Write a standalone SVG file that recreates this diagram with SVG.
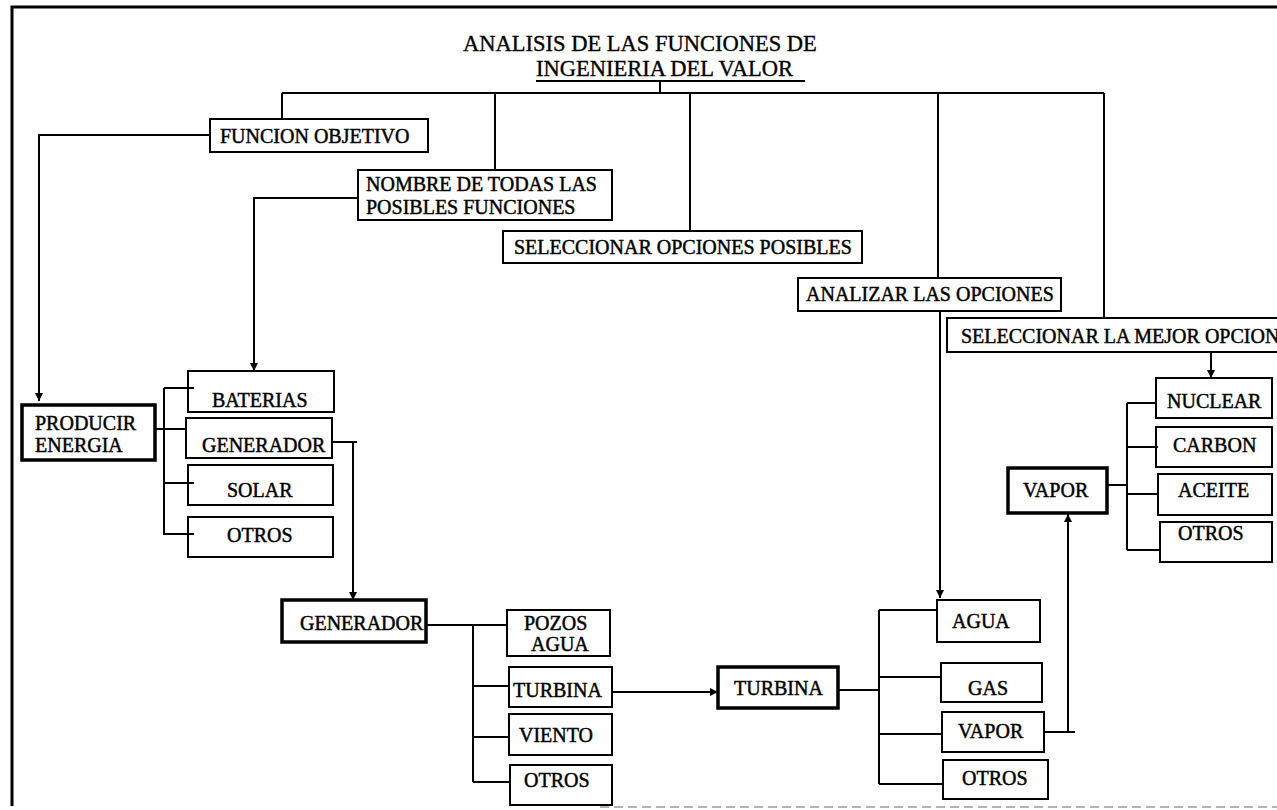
<svg xmlns="http://www.w3.org/2000/svg" width="1277" height="810" viewBox="0 0 1277 810">
  <style>
    .box { fill: #fff; stroke: #000; stroke-width: 2; }
    .thick { fill: #fff; stroke: #000; stroke-width: 3.5; }
    .lbl { font-family: "Liberation Serif", "Times New Roman", serif; font-size: 20px; fill: #000; stroke: #000; stroke-width: 0.45px; }
    .title { font-family: "Liberation Serif", "Times New Roman", serif; font-size: 22.5px; fill: #000; stroke: #000; stroke-width: 0.35px; }
    .wire { fill: none; stroke: #000; stroke-width: 2; }
    .arrow { fill: none; stroke: #000; stroke-width: 2; marker-end: url(#head); }
  </style>
  <defs>
    <marker id="head" viewBox="0 0 10 10" refX="10" refY="5" markerWidth="9" markerHeight="8" markerUnits="userSpaceOnUse" orient="auto">
      <path d="M0,0 L10,5 L0,10 z" fill="#000"/>
    </marker>
  </defs>

  <rect width="1277" height="810" fill="#fff"/>

  <!-- page frame -->
  <g id="frame">
    <path d="M12,806 V7 H1277" fill="none" stroke="#000" stroke-width="3"/>
    <path d="M600,807 H1277" fill="none" stroke="#9a9a9a" stroke-width="1.5" stroke-dasharray="9 5"/>
  </g>

  <!-- heading -->
  <g id="title">
    <text class="title" x="463" y="51">ANALISIS DE LAS FUNCIONES DE</text>
    <text class="title" x="536" y="76">INGENIERIA DEL VALOR</text>
    <path d="M536,81 H805" stroke="#000" stroke-width="1.8"/>
  </g>

  <!-- process steps -->
  <g id="funcion-objetivo">
    <rect class="box" x="210" y="119" width="218" height="33"/>
    <text class="lbl" x="220" y="143">FUNCION OBJETIVO</text>
  </g>
  <g id="nombre-funciones">
    <rect class="box" x="358" y="170" width="254" height="50"/>
    <text class="lbl" x="366" y="191">NOMBRE DE TODAS LAS</text>
    <text class="lbl" x="366" y="214">POSIBLES FUNCIONES</text>
  </g>
  <g id="seleccionar-opciones">
    <rect class="box" x="503" y="231" width="359" height="32"/>
    <text class="lbl" x="514" y="254">SELECCIONAR OPCIONES POSIBLES</text>
  </g>
  <g id="analizar-opciones">
    <rect class="box" x="798" y="278" width="263" height="33"/>
    <text class="lbl" x="806" y="301">ANALIZAR LAS OPCIONES</text>
  </g>
  <g id="seleccionar-mejor">
    <rect class="box" x="947" y="318" width="360" height="34"/>
    <text class="lbl" x="961" y="343">SELECCIONAR LA MEJOR OPCION</text>
  </g>

  <!-- producir energia branch -->
  <g id="producir-energia">
    <rect class="thick" x="22" y="405" width="133" height="55"/>
    <text class="lbl" x="35" y="430">PRODUCIR</text>
    <text class="lbl" x="35" y="452">ENERGIA</text>
  </g>
  <g id="baterias">
    <rect class="box" x="188" y="371" width="146" height="41"/>
    <text class="lbl" x="212" y="407">BATERIAS</text>
  </g>
  <g id="generador-opcion">
    <rect class="box" x="186" y="418" width="146" height="40"/>
    <text class="lbl" x="202" y="452">GENERADOR</text>
  </g>
  <g id="solar">
    <rect class="box" x="188" y="465" width="145" height="40"/>
    <text class="lbl" x="227" y="497">SOLAR</text>
  </g>
  <g id="otros-1">
    <rect class="box" x="188" y="517" width="145" height="40"/>
    <text class="lbl" x="227" y="542">OTROS</text>
  </g>

  <!-- generador branch -->
  <g id="generador">
    <rect class="thick" x="282" y="600" width="144" height="42"/>
    <text class="lbl" x="300" y="630">GENERADOR</text>
  </g>
  <g id="pozos-agua">
    <rect class="box" x="507" y="610" width="103" height="46"/>
    <text class="lbl" x="524" y="630">POZOS</text>
    <text class="lbl" x="531" y="651">AGUA</text>
  </g>
  <g id="turbina-opcion">
    <rect class="box" x="509" y="667" width="103" height="40"/>
    <text class="lbl" x="513" y="697">TURBINA</text>
  </g>
  <g id="viento">
    <rect class="box" x="509" y="714" width="103" height="41"/>
    <text class="lbl" x="519" y="742">VIENTO</text>
  </g>
  <g id="otros-2">
    <rect class="box" x="510" y="765" width="102" height="40"/>
    <text class="lbl" x="524" y="787">OTROS</text>
  </g>

  <!-- turbina branch -->
  <g id="turbina">
    <rect class="thick" x="718" y="667" width="120" height="41"/>
    <text class="lbl" x="734" y="695">TURBINA</text>
  </g>
  <g id="agua">
    <rect class="box" x="937" y="600" width="103" height="42"/>
    <text class="lbl" x="952" y="628">AGUA</text>
  </g>
  <g id="gas">
    <rect class="box" x="941" y="663" width="101" height="39"/>
    <text class="lbl" x="968" y="695">GAS</text>
  </g>
  <g id="vapor-opcion">
    <rect class="box" x="942" y="712" width="102" height="40"/>
    <text class="lbl" x="958" y="738">VAPOR</text>
  </g>
  <g id="otros-3">
    <rect class="box" x="943" y="760" width="105" height="39"/>
    <text class="lbl" x="962" y="785">OTROS</text>
  </g>

  <!-- vapor branch -->
  <g id="vapor">
    <rect class="thick" x="1008" y="468" width="99" height="45"/>
    <text class="lbl" x="1023" y="497">VAPOR</text>
  </g>
  <g id="nuclear">
    <rect class="box" x="1156" y="378" width="116" height="40"/>
    <text class="lbl" x="1167" y="408">NUCLEAR</text>
  </g>
  <g id="carbon">
    <rect class="box" x="1156" y="427" width="116" height="40"/>
    <text class="lbl" x="1173" y="452">CARBON</text>
  </g>
  <g id="aceite">
    <rect class="box" x="1158" y="474" width="114" height="41"/>
    <text class="lbl" x="1178" y="497">ACEITE</text>
  </g>
  <g id="otros-4">
    <rect class="box" x="1160" y="522" width="112" height="40"/>
    <text class="lbl" x="1178" y="540">OTROS</text>
  </g>

  <!-- connectors -->
  <g id="connectors">
    <path class="wire" d="M282,93 H1104"/>
    <path class="wire" d="M660,81 V93"/>
    <path class="wire" d="M282,93 V119"/>
    <path class="wire" d="M495,93 V170"/>
    <path class="wire" d="M690,93 V231"/>
    <path class="wire" d="M938,93 V278"/>
    <path class="wire" d="M1104,93 V318"/>

    <path class="arrow" d="M210,135 H39 V401"/>
    <path class="arrow" d="M358,198 H254 V371"/>
    <path class="arrow" d="M940,311 V598"/>
    <path class="arrow" d="M1211,352 V378"/>

    <path class="wire" d="M155,429 H186"/>
    <path class="wire" d="M164,388 V535"/>
    <path class="wire" d="M164,388 H194 M164,483 H194 M164,534 H194"/>

    <path class="wire" d="M332,442 H357"/>
    <path class="arrow" d="M353,442 V600"/>

    <path class="wire" d="M426,625 H507"/>
    <path class="wire" d="M473,625 V782"/>
    <path class="wire" d="M473,686 H509 M473,737 H509 M473,782 H510"/>
    <path class="arrow" d="M612,692 H718"/>

    <path class="wire" d="M838,690 H879"/>
    <path class="wire" d="M879,610 V784"/>
    <path class="wire" d="M879,610 H937 M879,677 H941 M879,734 H942 M879,784 H943"/>

    <path class="wire" d="M1044,732 H1075"/>
    <path class="arrow" d="M1068,732 V514"/>

    <path class="wire" d="M1107,485 H1127"/>
    <path class="wire" d="M1127,403 V550"/>
    <path class="wire" d="M1127,403 H1156 M1127,447 H1158 M1127,494 H1158 M1127,550 H1160"/>
  </g>
</svg>
